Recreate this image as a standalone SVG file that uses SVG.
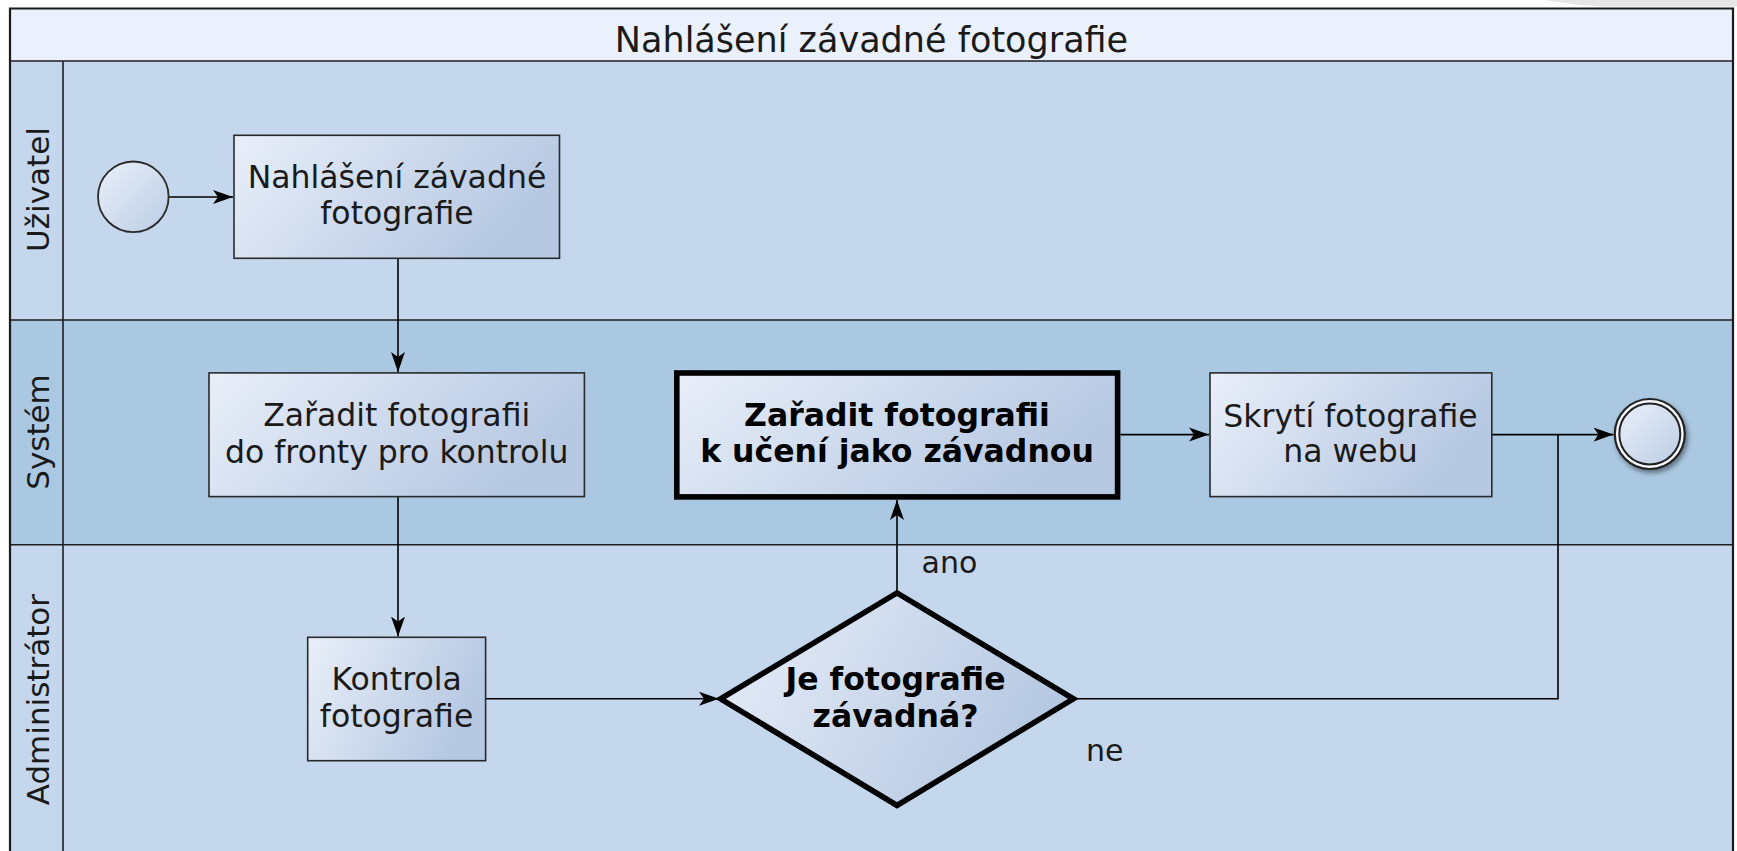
<svg xmlns="http://www.w3.org/2000/svg" width="1737" height="851" viewBox="0 0 1737 851">
  <style>
    .lbl { font-family: "DejaVu Sans", "Liberation Sans", sans-serif; fill: #1a1a1a; }
    .task { font-size: 31.5px; text-anchor: middle; }
    .bold { font-weight: bold; fill: #000; }
    .lane { font-size: 31px; text-anchor: middle; }
    .edge { font-size: 30px; }
    .box { fill: url(#g); stroke: #2a2a2a; stroke-width: 1.6; }
    .sep { stroke: #1e1e1e; stroke-width: 1.6; fill: none; }
    .conn { stroke: #000; stroke-width: 1.6; fill: none; }
  </style>
  <defs>
    <linearGradient id="g" x1="0" y1="0" x2="1" y2="0.35">
      <stop offset="0" stop-color="#e9eff9"/>
      <stop offset="1" stop-color="#b6c8e2"/>
    </linearGradient>
    <linearGradient id="gc" x1="0" y1="0" x2="1" y2="1">
      <stop offset="0" stop-color="#e9eff9"/>
      <stop offset="1" stop-color="#bccde5"/>
    </linearGradient>
    <marker id="arr" markerUnits="userSpaceOnUse" markerWidth="22" markerHeight="16" refX="20" refY="8" orient="auto">
      <path d="M0,1 L20,8 L0,15 L5,8 Z" fill="#000"/>
    </marker>
    <filter id="sh" x="-30%" y="-30%" width="160%" height="160%">
      <feGaussianBlur in="SourceAlpha" stdDeviation="2.5"/>
      <feOffset dx="2" dy="3" result="b"/>
      <feComponentTransfer><feFuncA type="linear" slope="0.45"/></feComponentTransfer>
      <feMerge><feMergeNode/><feMergeNode in="SourceGraphic"/></feMerge>
    </filter>
  </defs>

  <rect x="0" y="0" width="1737" height="851" fill="#ffffff"/>
  <path d="M1545,0 Q1575,5 1600,6.5 L1737,6.5 L1737,0 Z" fill="#e6e6e6"/>

  <g id="pool">
    <rect x="10" y="8.5" width="1723" height="52.5" fill="#eaf1fd"/>
    <rect x="10" y="61" width="1723" height="259" fill="#c5d7ec"/>
    <rect x="10" y="320" width="1723" height="224.7" fill="#aac8e2"/>
    <rect x="10" y="544.7" width="1723" height="320" fill="#c5d7ec"/>
    <path class="sep" d="M10,61 H1733 M10,320 H1733 M10,544.7 H1733 M63,61 V861"/>
    <path d="M10,861 V8.5 H1733 V861" fill="none" stroke="#1a1a1a" stroke-width="2.2"/>
    <text class="lbl" x="871.5" y="51.7" font-size="35" text-anchor="middle">Nahlášení závadné fotografie</text>
  </g>

  <g id="lane-uzivatel">
    <text class="lbl lane" transform="translate(48.5,189.5) rotate(-90)">Uživatel</text>
  </g>
  <g id="lane-system">
    <text class="lbl lane" transform="translate(48.5,432) rotate(-90)">Systém</text>
  </g>
  <g id="lane-administrator">
    <text class="lbl lane" transform="translate(48.5,699.6) rotate(-90)">Administrátor</text>
  </g>

  <g id="connectors">
    <path class="conn" d="M168.5,197 L233,197" marker-end="url(#arr)"/>
    <path class="conn" d="M398,258.5 L398,372" marker-end="url(#arr)"/>
    <path class="conn" d="M398,496.6 L398,636.5" marker-end="url(#arr)"/>
    <path class="conn" d="M485.6,698.8 L719,698.8" marker-end="url(#arr)"/>
    <path class="conn" d="M897,593 L897,500" marker-end="url(#arr)"/>
    <path class="conn" d="M1120.5,434.6 L1209,434.6" marker-end="url(#arr)"/>
    <path class="conn" d="M1492,434.6 L1613.5,434.6" marker-end="url(#arr)"/>
    <path class="conn" d="M1073.4,698.8 L1558,698.8 L1558,434.6"/>
    <text class="lbl edge" x="921.5" y="572.5">ano</text>
    <text class="lbl edge" x="1086" y="760.7">ne</text>
  </g>

  <g id="start">
    <circle cx="133.3" cy="196.8" r="35.3" fill="url(#gc)" stroke="#2a2a2a" stroke-width="1.8"/>
  </g>

  <g id="task-nahlaseni">
    <rect class="box" x="234" y="135.3" width="325.5" height="123"/>
    <text class="lbl task" x="397" y="188.3">Nahlášení závadné</text>
    <text class="lbl task" x="397" y="224">fotografie</text>
  </g>

  <g id="task-zaradit-fronta">
    <rect class="box" x="209" y="372.9" width="375.4" height="123.7"/>
    <text class="lbl task" x="396.7" y="425.8">Zařadit fotografii</text>
    <text class="lbl task" x="396.7" y="463">do fronty pro kontrolu</text>
  </g>

  <g id="task-kontrola">
    <rect class="box" x="307.7" y="637.3" width="177.9" height="123.4"/>
    <text class="lbl task" x="396.6" y="690.2">Kontrola</text>
    <text class="lbl task" x="396.6" y="726.8">fotografie</text>
  </g>

  <g id="task-zaradit-uceni">
    <rect x="676.8" y="373" width="440.8" height="123.9" fill="url(#g)" stroke="#000" stroke-width="5.6"/>
    <text class="lbl task bold" x="897" y="425.8">Zařadit fotografii</text>
    <text class="lbl task bold" x="897" y="462.4">k učení jako závadnou</text>
  </g>

  <g id="gateway">
    <path d="M720.5,698.8 L897,592.9 L1073.4,698.8 L897,805.4 Z" fill="url(#g)" stroke="#000" stroke-width="5.6" stroke-linejoin="miter"/>
    <text class="lbl task bold" x="895.5" y="689.5">Je fotografie</text>
    <text class="lbl task bold" x="895.5" y="726.8">závadná?</text>
  </g>

  <g id="task-skryti">
    <rect class="box" x="1210" y="372.9" width="281.8" height="123.7"/>
    <text class="lbl task" x="1350.5" y="426.8">Skrytí fotografie</text>
    <text class="lbl task" x="1350.5" y="462.4">na webu</text>
  </g>

  <g id="end">
    <g filter="url(#sh)">
      <circle cx="1649.8" cy="434" r="35" fill="#f4f7fb" stroke="#222" stroke-width="2.2"/>
      <circle cx="1649.8" cy="434" r="30.5" fill="url(#gc)" stroke="#222" stroke-width="2"/>
    </g>
  </g>
</svg>
